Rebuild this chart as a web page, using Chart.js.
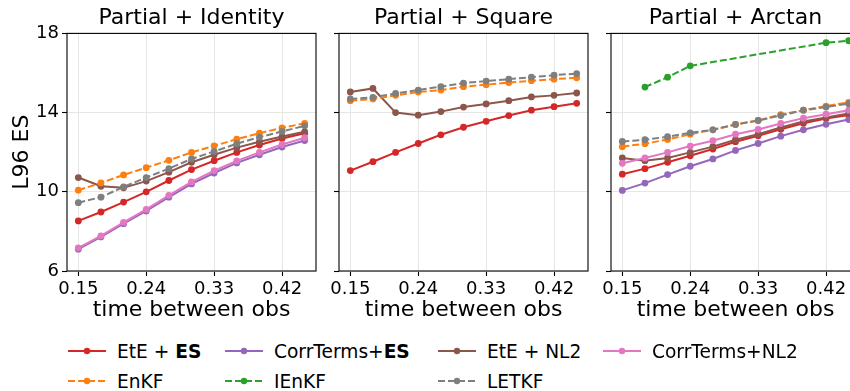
<!DOCTYPE html>
<html>
<head>
<meta charset="utf-8">
<script src="https://cdn.jsdelivr.net/npm/chart.js@4/dist/chart.umd.min.js"></script>
<style>
  html, body { margin: 0; padding: 0; background: #fff; }
  body { width: 850px; height: 391px; overflow: hidden; position: relative; font-family: "DejaVu Sans", sans-serif; }
  canvas { position: absolute; top: 0; }
  .item { position: absolute; display: flex; align-items: center; height: 20px; font-size: 18.6px; color: #000; white-space: nowrap; }
  .item svg { margin-right: 11px; }
</style>
</head>
<body>
<canvas id="identity" width="325" height="330" style="left:0px"></canvas>
<canvas id="square" width="272" height="330" style="left:325px"></canvas>
<canvas id="arctan" width="280" height="330" style="left:596px"></canvas>
<div id="legend"></div>

<script>
const gaps = [0.15, 0.18, 0.21, 0.24, 0.27, 0.30, 0.33, 0.36, 0.39, 0.42, 0.45];
const xTicks = [0.15, 0.24, 0.33, 0.42];
const yTicks = [6, 10, 14, 18];

// Partial + Identity
const idEteEs   = [8.53, 8.98, 9.48, 10.00, 10.57, 11.12, 11.57, 11.99, 12.36, 12.69, 12.96];
const idCorrEs  = [7.10, 7.72, 8.39, 9.03, 9.73, 10.40, 10.95, 11.46, 11.87, 12.26, 12.59];
const idEteNl2  = [10.72, 10.28, 10.20, 10.54, 10.99, 11.49, 11.87, 12.23, 12.53, 12.79, 13.03];
const idCorrNl2 = [7.17, 7.77, 8.46, 9.11, 9.82, 10.50, 11.07, 11.56, 11.99, 12.39, 12.73];
const idEnkf    = [10.08, 10.45, 10.85, 11.22, 11.59, 11.99, 12.32, 12.66, 12.96, 13.23, 13.46];
const idLetkf   = [9.45, 9.73, 10.25, 10.72, 11.17, 11.66, 12.04, 12.43, 12.76, 13.05, 13.33];

// Partial + Square
const sqEteEs  = [11.07, 11.52, 11.99, 12.44, 12.88, 13.26, 13.56, 13.85, 14.12, 14.30, 14.47];
const sqEteNl2 = [15.04, 15.22, 14.00, 13.87, 14.05, 14.28, 14.44, 14.60, 14.79, 14.87, 14.99];
const sqEnkf   = [14.60, 14.69, 14.87, 15.04, 15.14, 15.31, 15.41, 15.52, 15.61, 15.69, 15.76];
const sqLetkf  = [14.69, 14.77, 14.97, 15.14, 15.31, 15.49, 15.59, 15.69, 15.79, 15.89, 15.97];

// Partial + Arctan
const atEteEs   = [10.89, 11.17, 11.49, 11.82, 12.16, 12.53, 12.83, 13.16, 13.46, 13.70, 13.88];
const atCorrEs  = [10.07, 10.44, 10.87, 11.29, 11.66, 12.09, 12.44, 12.81, 13.13, 13.41, 13.65];
const atEteNl2  = [11.71, 11.57, 11.71, 11.99, 12.28, 12.63, 12.91, 13.25, 13.55, 13.75, 13.95];
const atCorrNl2 = [11.44, 11.71, 11.99, 12.31, 12.58, 12.91, 13.15, 13.45, 13.72, 13.92, 14.12];
const atEnkf    = [12.28, 12.43, 12.64, 12.91, 13.13, 13.40, 13.60, 13.90, 14.12, 14.33, 14.52];
const atIenkf   = [null, 15.29, 15.79, 16.36, null, null, null, null, null, 17.53, 17.63];
const atLetkf   = [12.54, 12.63, 12.78, 12.98, 13.13, 13.40, 13.60, 13.85, 14.12, 14.28, 14.45];

// method -> [label html, colour, dashed, draw order (lower = on top)]
const methods = {
  eteEs:   ['EtE + <b>ES</b>', '#d62728', false, 7],
  corrEs:  ['CorrTerms+<b>ES</b>', '#9467bd', false, 6],
  eteNl2:  ['EtE + NL2', '#8c564b', false, 5],
  corrNl2: ['CorrTerms+NL2', '#e377c2', false, 4],
  enkf:    ['EnKF', '#ff7f0e', true, 3],
  ienkf:   ['IEnKF', '#2ca02c', true, 2],
  letkf:   ['LETKF', '#7f7f7f', true, 1]
};

const FONT = 'DejaVu Sans';

function series(key, ys) {
  const [label, color, dashed, order] = methods[key];
  return {
    label: label,
    data: gaps.map((x, i) => ({x: x, y: ys[i]})),
    borderColor: color,
    backgroundColor: color,
    pointBackgroundColor: color,
    pointBorderColor: color,
    pointBorderWidth: 0,
    pointRadius: 3.4,
    borderWidth: 2,
    borderDash: dashed ? [7, 3] : [],
    spanGaps: true,
    tension: 0,
    order: order
  };
}

// box around the plot area, like the axes spines
const frame = {
  id: 'frame',
  afterDraw(chart) {
    const {ctx, chartArea: a} = chart;
    ctx.save();
    ctx.strokeStyle = '#000';
    ctx.lineWidth = 1.1;
    ctx.strokeRect(a.left, a.top, a.right - a.left, a.bottom - a.top);
    ctx.restore();
  }
};

function panel(id, title, datasets, yWidth, padRight, showY) {
  return new Chart(document.getElementById(id), {
    type: 'line',
    data: {datasets: datasets},
    plugins: [frame],
    options: {
      responsive: false,
      animation: false,
      devicePixelRatio: 1,
      events: [],
      layout: {padding: {left: 0, right: padRight, top: 0, bottom: 0}},
      plugins: {
        legend: {display: false},
        tooltip: {enabled: false},
        title: {
          display: true,
          text: title,
          fullSize: false,
          color: '#000',
          font: {family: FONT, size: 22, weight: 'normal'},
          padding: {top: 5, bottom: 2}
        }
      },
      scales: {
        x: {
          type: 'linear',
          min: 0.135,
          max: 0.465,
          afterBuildTicks: s => { s.ticks = xTicks.map(v => ({value: v})); },
          afterFit: s => { s.height = 59; },
          grid: {color: '#e6e6e6', lineWidth: 1, tickLength: 5, tickColor: '#000', tickWidth: 1.1},
          border: {display: false},
          ticks: {
            color: '#000',
            padding: 3,
            maxRotation: 0,
            font: {family: FONT, size: 18},
            callback: v => v.toFixed(2)
          },
          title: {
            display: true,
            text: 'time between obs',
            color: '#000',
            font: {family: FONT, size: 22},
            padding: {top: 0, bottom: 7}
          }
        },
        y: {
          min: 6,
          max: 18,
          afterBuildTicks: s => { s.ticks = yTicks.map(v => ({value: v})); },
          afterFit: s => { s.width = yWidth; },
          grid: {color: '#e6e6e6', lineWidth: 1, tickLength: 5, tickColor: '#000', tickWidth: 1.1},
          border: {display: false},
          ticks: {
            display: showY,
            color: '#000',
            padding: 3,
            font: {family: FONT, size: 18}
          },
          title: {
            display: showY,
            text: 'L96 ES',
            color: '#000',
            font: {family: FONT, size: 22},
            padding: {top: 9, bottom: 0}
          }
        }
      }
    }
  });
}

panel('identity', 'Partial + Identity', [
  series('eteEs', idEteEs),
  series('corrEs', idCorrEs),
  series('eteNl2', idEteNl2),
  series('corrNl2', idCorrNl2),
  series('enkf', idEnkf),
  series('letkf', idLetkf)
], 67, 9, true);

panel('square', 'Partial + Square', [
  series('eteEs', sqEteEs),
  series('eteNl2', sqEteNl2),
  series('enkf', sqEnkf),
  series('letkf', sqLetkf)
], 14, 9, false);

panel('arctan', 'Partial + Arctan', [
  series('eteEs', atEteEs),
  series('corrEs', atCorrEs),
  series('eteNl2', atEteNl2),
  series('corrNl2', atCorrNl2),
  series('enkf', atEnkf),
  series('ienkf', atIenkf),
  series('letkf', atLetkf)
], 15, 16, false);

// legend, two rows of four columns
const legendRows = [
  ['eteEs', 'corrEs', 'eteNl2', 'corrNl2'],
  ['enkf', 'ienkf', 'letkf']
];
const colX = [68, 225, 438, 603];
const rowY = [351, 381];
const legend = document.getElementById('legend');
legendRows.forEach((row, r) => {
  row.forEach((key, c) => {
    const [label, color, dashed] = methods[key];
    const div = document.createElement('div');
    div.className = 'item';
    div.style.left = colX[c] + 'px';
    div.style.top = (rowY[r] - 10) + 'px';
    div.innerHTML =
      '<svg width="38" height="12">' +
      '<line x1="0" y1="6" x2="38" y2="6" stroke="' + color + '" stroke-width="2"' +
      (dashed ? ' stroke-dasharray="7 3"' : '') + '/>' +
      '<circle cx="19" cy="6" r="3.2" fill="' + color + '"/></svg>' +
      '<span>' + label + '</span>';
    legend.appendChild(div);
  });
});
</script>
</body>
</html>
